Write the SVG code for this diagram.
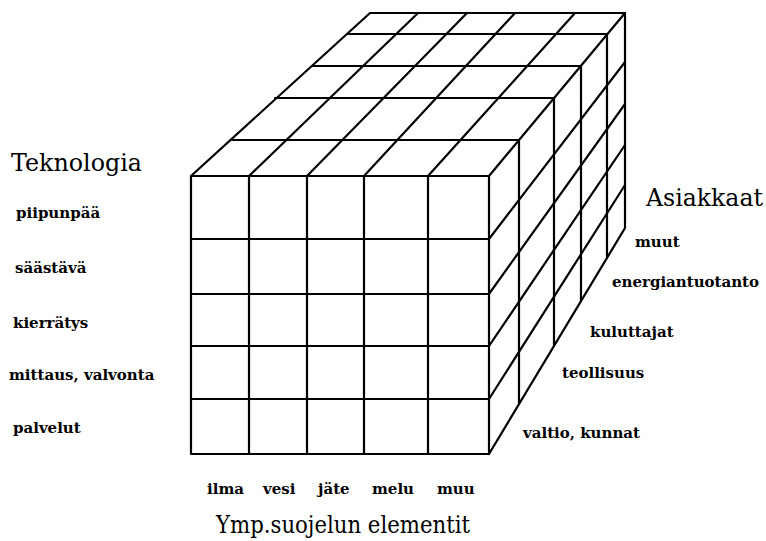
<svg xmlns="http://www.w3.org/2000/svg" width="766" height="541" viewBox="0 0 766 541">
<style>
.ln{fill:none;stroke:#000;stroke-width:2.2;stroke-linecap:round;stroke-linejoin:round}
.big{font-family:'DejaVu Serif',serif;font-size:24px;fill:#000}
.sm{font-family:'DejaVu Serif',serif;font-size:15px;font-weight:bold;fill:#000}
</style>
<rect width="766" height="541" fill="#fff"/>
<g id="front-face" class="ln">
<rect x="191" y="176" width="298" height="278"/>
<path d="M249,176V454M307,176V454M364,176V454M428,176V454"/>
<path d="M191,239H489M191,294H489M191,346H489M191,399H489"/>
</g>
<g id="top-face" class="ln">
<path d="M191,176L370,13H625L489,176"/>
<path d="M232,140H519M275,98H554M313,66H581M348,34H607"/>
<path d="M249,176L418,13M307,176L467,13M364,176L515,13M428,176L575,13"/>
</g>
<g id="right-face" class="ln">
<path d="M625,13V228L489,454"/>
<path d="M519,140V404M554,98V346M581,66V301M607,34V257"/>
<path d="M489,239L625,62M489,294L625,104M489,346L625,145M489,399L625,185"/>
</g>
<g id="axis-teknologia">
<text class="big" x="11" y="171" textLength="131" lengthAdjust="spacingAndGlyphs">Teknologia</text>
<text class="sm" x="16" y="218">piipunpää</text>
<text class="sm" x="15" y="273">säästävä</text>
<text class="sm" x="13" y="328">kierrätys</text>
<text class="sm" x="9" y="380">mittaus, valvonta</text>
<text class="sm" x="13" y="433">palvelut</text>
</g>
<g id="axis-asiakkaat">
<text class="big" x="646" y="206" textLength="117" lengthAdjust="spacingAndGlyphs">Asiakkaat</text>
<text class="sm" x="635" y="247">muut</text>
<text class="sm" x="612" y="287">energiantuotanto</text>
<text class="sm" x="590" y="337">kuluttajat</text>
<text class="sm" x="562" y="378">teollisuus</text>
<text class="sm" x="523" y="438">valtio, kunnat</text>
</g>
<g id="axis-elementit">
<text class="sm" x="207" y="494">ilma</text>
<text class="sm" x="263" y="494">vesi</text>
<text class="sm" x="318" y="494">jäte</text>
<text class="sm" x="372" y="494">melu</text>
<text class="sm" x="437" y="494">muu</text>
<text class="big" x="216" y="533" textLength="254" lengthAdjust="spacingAndGlyphs">Ymp.suojelun elementit</text>
</g>
</svg>
